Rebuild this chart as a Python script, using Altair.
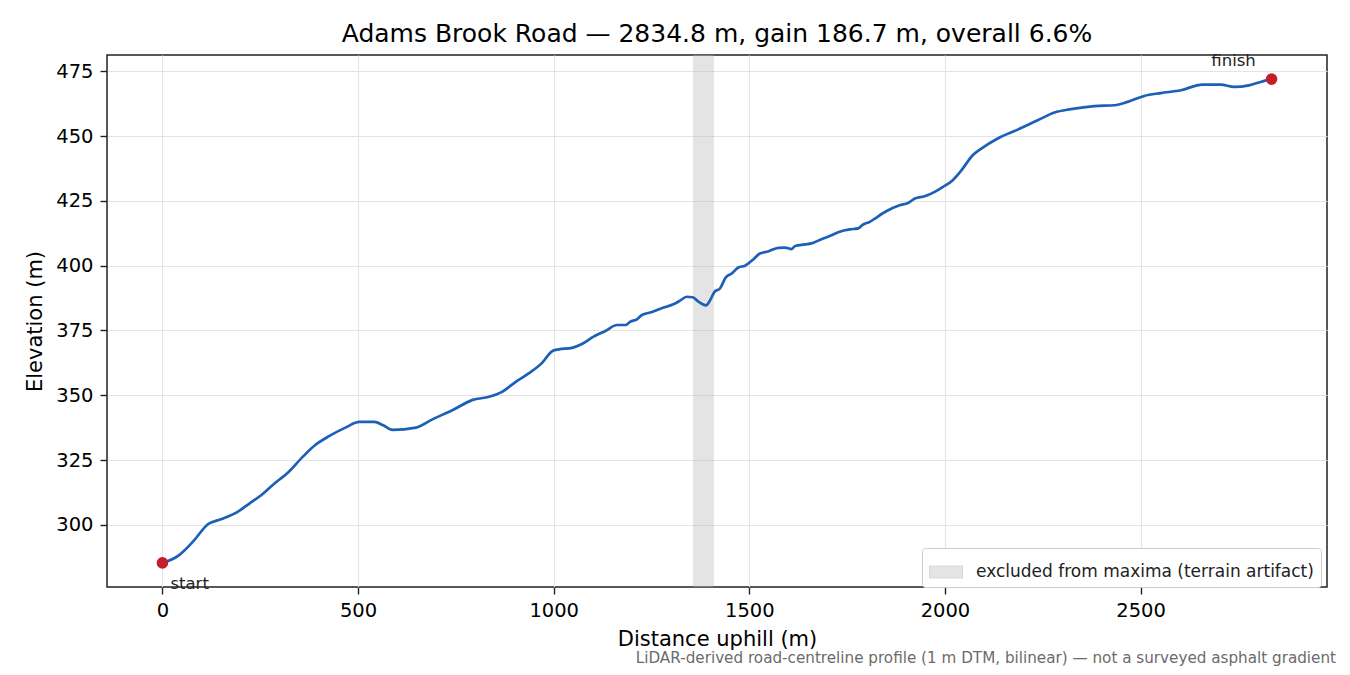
import altair as alt
import pandas as pd

# elevation profile (distance along road, metres)
dist_m = [0, 40, 78, 117, 151, 193, 223, 253, 282, 321, 359, 389, 427, 469, 503,
          542, 563, 588, 648, 690, 742, 793, 835, 869, 903, 937, 971, 997, 1013,
          1047, 1072, 1102, 1132, 1162, 1183, 1196, 1213, 1225, 1251, 1276, 1306,
          1323, 1340, 1355, 1370, 1389, 1400, 1411, 1425, 1440, 1455, 1472, 1489,
          1510, 1527, 1548, 1574, 1591, 1608, 1617, 1642, 1659, 1684, 1710, 1731,
          1757, 1778, 1791, 1808, 1821, 1850, 1884, 1906, 1923, 1948, 1974, 1995,
          2020, 2042, 2071, 2093, 2135, 2186, 2237, 2280, 2322, 2382, 2433, 2467,
          2509, 2552, 2603, 2658, 2705, 2739, 2777, 2807, 2834.8]
elev_m = [285.3, 288.0, 293.5, 300.3, 302.2, 305.1, 308.3, 311.5, 315.4, 320.2,
          326.3, 330.6, 334.3, 337.6, 339.7, 339.7, 338.5, 336.6, 337.5, 340.7,
          344.3, 348.2, 349.4, 351.4, 355.2, 358.5, 362.6, 367.1, 367.7, 368.3,
          369.8, 372.6, 374.8, 377.1, 377.1, 378.4, 379.3, 380.9, 382.1, 383.6,
          385.1, 386.5, 388.0, 387.8, 386.1, 384.7, 386.7, 389.9, 391.2, 395.5,
          397.0, 399.3, 400.0, 402.4, 404.7, 405.5, 406.9, 407.0, 406.4, 407.6,
          408.2, 408.6, 410.2, 411.7, 413.1, 414.0, 414.4, 415.9, 416.9, 418.2,
          421.0, 423.3, 424.2, 425.9, 426.8, 428.5, 430.4, 433.0, 436.8, 442.6,
          445.2, 449.1, 452.5, 456.1, 459.1, 460.4, 461.6, 461.9, 463.2, 465.5,
          466.6, 467.7, 469.9, 469.9, 469.0, 469.6, 470.9, 472.0]

# artifact band
band_from = [1357]
band_to = [1408]
band_label = ["excluded from maxima (terrain artifact)"]

# start / finish markers
end_dist = [0, 2834.8]
end_elev = [285.3, 472.0]
end_name = ["start", "finish"]

x_ticks = [0, 500, 1000, 1500, 2000, 2500]
y_ticks = [300, 325, 350, 375, 400, 425, 450, 475]

title_text = "Adams Brook Road — 2834.8 m, gain 186.7 m, overall 6.6%"
note_text = ["LiDAR-derived road-centreline profile (1 m DTM, bilinear) — not a surveyed asphalt gradient"]

FONT = "DejaVu Sans"
W, H = 1220, 532

profile = pd.DataFrame({"dist": dist_m, "elev": elev_m})
band = pd.DataFrame({"dist": band_from, "dist_end": band_to, "what": band_label})
ends = pd.DataFrame({"dist": end_dist, "elev": end_elev, "name": end_name})
note = pd.DataFrame({"note": note_text})

x_scale = alt.Scale(domain=[-141.7, 2976.5], nice=False, zero=False)
y_scale = alt.Scale(domain=[276.0, 481.3], nice=False, zero=False)

x_axis = alt.Axis(title="Distance uphill (m)", values=x_ticks, format="d",
                  titleX=610, titleY=52, titleBaseline="middle", titleAlign="center")
y_axis = alt.Axis(title="Elevation (m)", values=y_ticks, format="d",
                  titleX=-72, titleY=H / 2, titleAngle=-90,
                  titleBaseline="middle", titleAlign="center")

X = alt.X("dist:Q", scale=x_scale, axis=x_axis)
Y = alt.Y("elev:Q", scale=y_scale, axis=y_axis)

band_layer = alt.Chart(band).mark_rect(
    opacity=0.4, stroke="#9e9e9e", strokeWidth=1, strokeOpacity=0.5
).encode(
    x=X,
    x2="dist_end:Q",
    y=alt.value(0),
    y2=alt.value(H),
    color=alt.Color("what:N", scale=alt.Scale(range=["#bdbdbd"]),
                    legend=alt.Legend(
                        title=None, orient="none", legendX=815, legendY=493,
                        padding=7, strokeColor="#cccccc", fillColor="white",
                        cornerRadius=3,
                        symbolType="M-1,-0.36H1V0.36H-1Z", symbolSize=1089,
                        symbolOpacity=0.4, symbolStrokeColor="#9e9e9e",
                        symbolStrokeWidth=1,
                        labelFont=FONT, labelFontSize=17, labelColor="#222",
                        labelOffset=13, labelLimit=0)),
)

line_layer = alt.Chart(profile).mark_line(
    color="#1c5fb8", strokeWidth=2.7, interpolate="monotone"
).encode(x=X, y=Y)

dots = alt.Chart(ends).mark_circle(size=135, color="#c41e2d", opacity=1).encode(x=X, y=Y)

start_lbl = alt.Chart(ends).transform_filter(alt.datum.name == "start").mark_text(
    align="left", baseline="alphabetic", dx=8, dy=26, font=FONT, fontSize=16.5,
    color="#222"
).encode(x=X, y=Y, text="name:N")

finish_lbl = alt.Chart(ends).transform_filter(alt.datum.name == "finish").mark_text(
    align="center", baseline="alphabetic", dx=-38, dy=-13, font=FONT, fontSize=16.5,
    color="#222"
).encode(x=X, y=Y, text="name:N")

foot = alt.Chart(note).mark_text(
    align="right", baseline="middle", font=FONT, fontSize=15.2, color="#6b6b6b"
).encode(x=alt.value(1229), y=alt.value(603), text="note:N")

chart = alt.layer(band_layer, line_layer, dots, start_lbl, finish_lbl, foot).properties(
    width=W,
    height=H,
    padding={"left": 99, "top": 47, "right": 15, "bottom": 80},
    autosize=alt.AutoSizeParams(type="none"),
    title=alt.TitleParams(text=title_text, font=FONT, fontSize=25, fontWeight="normal",
                          color="black", anchor="middle", offset=6, frame="group"),
).configure_view(
    stroke="#222", strokeWidth=1.5
).configure_axis(
    domain=False, grid=True, gridColor="#e4e4e4", gridWidth=1,
    tickColor="#222", tickSize=7, tickWidth=1.4,
    labelFont=FONT, labelFontSize=19.5, labelColor="black", labelPadding=7,
    titleFont=FONT, titleFontSize=21, titleFontWeight="normal", titleColor="black",
)

chart.save("out.html", embed_options={"renderer": "svg", "actions": False})
